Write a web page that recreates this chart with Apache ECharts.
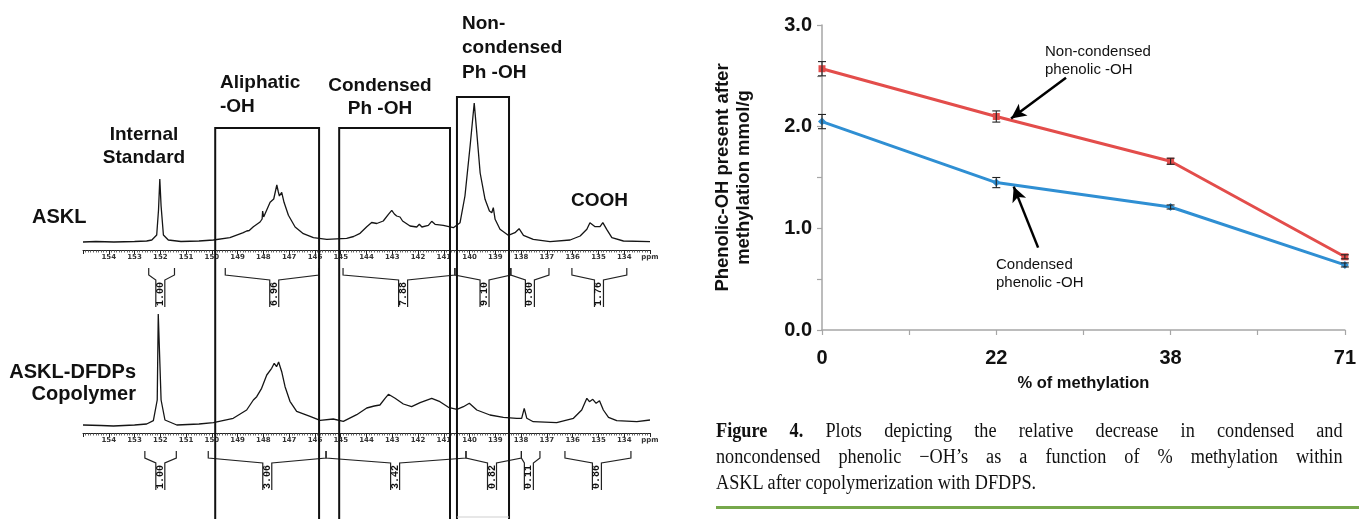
<!DOCTYPE html>
<html>
<head>
<meta charset="utf-8">
<title>Figure 4</title>
<script src="https://cdn.jsdelivr.net/npm/echarts@6.0.0/dist/echarts.min.js"></script>
<style>
  html, body { margin: 0; padding: 0; background: #fff; }
  #wrap { position: relative; width: 1359px; height: 519px; overflow: hidden; }
  #main { position: absolute; left: 0; top: 0; width: 1359px; height: 519px; }
  #caption {
    position: absolute; left: 716px; top: 417px; width: 704px;
    transform: scaleX(0.89); transform-origin: 0 0;
    font-family: "Liberation Serif", serif; font-size: 20.5px; line-height: 26px; color: #111;
  }
  #caption .j { text-align: justify; text-align-last: justify; white-space: nowrap; }
  #rule { position: absolute; left: 716px; top: 506px; width: 643px; height: 3px; background: #76a84b; }
</style>
</head>
<body>
<div id="wrap">
  <div id="main"></div>
  <div id="caption">
    <div class="j"><b>Figure 4.</b> Plots depicting the relative decrease in condensed and</div>
    <div class="j">noncondensed phenolic −OH’s as a function of % methylation within</div>
    <div>ASKL after copolymerization with DFDPS.</div>
  </div>
  <div id="rule"></div>
</div>
<script>
// ---- 31P NMR traces (ppm, intensity) ----
var ppmA = [155.0, 154.5, 153.8, 153.0, 152.53, 152.33, 152.14, 152.07, 152.02, 151.97, 151.88, 151.69, 151.2, 150.5,
  149.94, 149.3, 148.78, 148.65, 148.55, 148.39, 148.13, 148.05, 148.03, 147.99, 147.94, 147.74, 147.6, 147.55, 147.48,
  147.42, 147.38, 147.29, 147.2, 147.03, 146.77, 146.45, 146.06, 145.54, 144.77, 144.5, 144.25, 143.99, 143.8, 143.6,
  143.35, 143.15, 143.02, 142.92, 142.83, 142.7, 142.67, 142.6, 142.31, 142.05, 141.95, 141.85, 141.6, 141.47, 141.34,
  141.02, 140.63, 140.37, 140.18, 139.98, 139.88, 139.82, 139.72, 139.59, 139.4, 139.23, 139.14, 139.08, 139.01, 138.82,
  138.5, 138.24, 138.08, 137.91, 137.53, 136.88, 136.1, 135.71, 135.45, 135.33, 135.13, 134.94, 134.83, 134.68, 134.48,
  134.03, 133.0];
var intA = [8, 8.5, 8, 8.5, 9, 10, 15, 40, 71, 44, 15, 10, 8.5, 9,
  10, 12.3, 17.3, 19, 19.5, 23.3, 28, 31, 39, 33, 34, 47.7, 51, 53, 65,
  58, 54, 57.7, 47.7, 34.7, 23, 16.3, 12.3, 10.7, 11.7, 13.5, 16.7, 23.3, 27.5, 26.5,
  29, 35.7, 39.7, 36, 34, 33, 34.7, 29, 24, 23, 25.7, 23, 24.7, 28.7, 25.7,
  24.7, 22.3, 27.3, 54, 104, 131, 147, 117, 77, 50.7, 39, 37.3, 42.3, 30.7, 20.7,
  14.7, 17.3, 21.3, 14.7, 10.7, 8.3, 10, 14, 20.7, 27.3, 23.3, 23.3, 27.3, 20.7, 12.3,
  9, 8.3];

var ppmB = [155.0, 154.3, 153.82, 153.0, 152.53, 152.27, 152.12, 152.08, 152.03, 151.97, 151.82, 151.36, 150.5, 149.94,
  149.17, 148.65, 148.39, 148.26, 148.07, 147.87, 147.68, 147.58, 147.49, 147.41, 147.29, 147.16, 146.97, 146.71, 146.19,
  145.8, 145.29, 144.9, 144.38, 143.99, 143.7, 143.48, 143.28, 143.15, 142.89, 142.57, 142.25, 141.92, 141.47, 141.15,
  140.82, 140.49, 140.24, 140.01, 139.72, 139.21, 138.69, 138.17, 137.98, 137.88, 137.78, 137.53, 136.62, 135.97, 135.65,
  135.45, 135.35, 135.22, 135.09, 134.96, 134.81, 134.61, 134.29, 133.51, 133.0];
var intB = [8, 7.5, 7, 8, 9, 12.3, 33, 119, 119, 33, 13, 8, 9, 10.3,
  14.7, 23, 33, 36.3, 44.7, 58, 64.7, 69.7, 66.3, 71, 61.3, 46.3, 31.7, 21.7, 16.7,
  12.7, 14, 11.7, 18.3, 25, 27, 28, 34.7, 38.7, 34.7, 29, 26.3, 30.3, 34.7, 31.3,
  25.7, 23.7, 26.3, 29.7, 23, 18, 15.7, 14.7, 14.7, 24.7, 14.7, 11.3, 10.3, 14.7, 23,
  34.7, 31.3, 33.7, 29.7, 32.3, 23, 15.7, 12.3, 11.3, 13];

// integral regions (ppm) and their values
var integFromA = [152.45, 149.48, 144.91, 140.57, 138.40, 136.03];
var integToA   = [151.45, 145.84, 140.57, 138.40, 136.92, 133.90];
var integMidA  = [152.0, 147.58, 142.58, 139.42, 137.66, 134.98];
var integValA  = ['1.00', '6.96', '7.88', '9.10', '0.80', '1.76'];

var integFromB = [152.60, 150.14, 145.57, 140.14, 137.99, 136.30];
var integToB   = [151.38, 145.57, 140.14, 137.99, 137.27, 133.74];
var integMidB  = [152.0, 147.85, 142.89, 139.13, 137.70, 135.06];
var integValB  = ['1.00', '3.06', '3.42', '0.82', '0.11', '0.86'];

// region boxes (ppm)
var boxFrom = [149.87, 145.06, 140.49];
var boxTo   = [145.84, 140.76, 138.47];
var boxTopPx = [128, 128, 97];

// ---- methylation plot ----
var methylation = ['0', '22', '38', '71'];
var nonCondensed = [2.57, 2.10, 1.66, 0.72];
var nonCondensedErr = [0.07, 0.055, 0.03, 0.02];
var condensed = [2.05, 1.45, 1.21, 0.64];
var condensedErr = [0.07, 0.05, 0.02, 0.02];
var arrowNonCond = [[1.40, 2.48], [1.085, 2.08]];
var arrowCond = [[1.24, 0.81], [1.10, 1.41]];

var chart = echarts.init(document.getElementById('main'));

var labelFont = '"Liberation Sans", Arial, sans-serif';
var narrowFont = '"Liberation Sans Narrow", "Liberation Sans", Arial, sans-serif';

function pairs(xs, ys) {
  return xs.map(function (x, i) { return [x, ys[i]]; });
}

function rulerAxis(gridIndex) {
  return {
    type: 'value', gridIndex: gridIndex, min: 133, max: 155, interval: 1, inverse: true,
    axisLine: { show: true, onZero: false, lineStyle: { color: '#222', width: 1 } },
    axisTick: { show: true, length: 4, lineStyle: { color: '#222', width: 1 } },
    minorTick: { show: true, splitNumber: 10, length: 2.5, lineStyle: { color: '#444', width: 0.8 } },
    splitLine: { show: false },
    minorSplitLine: { show: false },
    axisLabel: {
      margin: 4, fontSize: 7, fontWeight: 'bold', color: '#333', fontFamily: 'DejaVu Sans',
      showMinLabel: true, showMaxLabel: false,
      formatter: function (v) { return v === 133 ? 'ppm' : String(v); }
    }
  };
}

function bracketSeries(idx, from, to, mid, vals) {
  return {
    type: 'custom', xAxisIndex: idx, yAxisIndex: idx, clip: false, silent: true, z: 4,
    data: from.map(function (f, i) { return [f, to[i], mid[i], i]; }),
    renderItem: function (params, api) {
      var i = api.value(3);
      var pL = api.coord([api.value(0), 0]);
      var xR = api.coord([api.value(1), 0])[0];
      var xM = api.coord([api.value(2), 0])[0];
      var xL = pL[0], base = pL[1], w = 4.5;
      var st = { stroke: '#222', lineWidth: 1.2, fill: null };
      return {
        type: 'group',
        children: [
          { type: 'polyline', shape: { points: [[xL, base + 18], [xL, base + 25], [xM - w, base + 30], [xM - w, base + 57]] }, style: st },
          { type: 'polyline', shape: { points: [[xR, base + 18], [xR, base + 25], [xM + w, base + 30], [xM + w, base + 57]] }, style: st },
          {
            type: 'text', x: xM, y: base + 44, rotation: Math.PI / 2,
            style: { text: vals[i], fill: '#111', font: 'bold 10px "Liberation Mono", monospace', align: 'center', verticalAlign: 'middle' }
          }
        ]
      };
    }
  };
}

function errorSeries(vals, errs) {
  return {
    type: 'custom', xAxisIndex: 2, yAxisIndex: 2, silent: true, z: 6,
    data: vals.map(function (v, i) { return [i, v, errs[i]]; }),
    renderItem: function (params, api) {
      var x = api.value(0), v = api.value(1), e = api.value(2);
      var hi = api.coord([x, v + e]), lo = api.coord([x, v - e]);
      var st = { stroke: '#222', lineWidth: 1.1, fill: null };
      return {
        type: 'group',
        children: [
          { type: 'line', shape: { x1: hi[0], y1: hi[1], x2: lo[0], y2: lo[1] }, style: st },
          { type: 'line', shape: { x1: hi[0] - 4, y1: hi[1], x2: hi[0] + 4, y2: hi[1] }, style: st },
          { type: 'line', shape: { x1: lo[0] - 4, y1: lo[1], x2: lo[0] + 4, y2: lo[1] }, style: st }
        ]
      };
    }
  };
}

function textEl(txt, x, y, size, align, lh, font) {
  return {
    type: 'text', x: x, y: y, z: 20,
    style: {
      text: txt, fill: '#111', align: align, verticalAlign: 'middle', lineHeight: lh,
      font: (font && font.weight ? font.weight : 'bold') + ' ' + size + 'px ' + (font && font.family ? font.family : labelFont)
    }
  };
}

var option = {
  animation: false,
  backgroundColor: '#fff',
  grid: [
    { left: 83, right: 709, top: 95, height: 155 },
    { left: 83, right: 709, top: 300, height: 133 },
    { left: 822, right: 12, top: 25, bottom: 189 }
  ],
  xAxis: [
    rulerAxis(0),
    rulerAxis(1),
    {
      type: 'value', gridIndex: 2, min: 0, max: 3, interval: 0.5,
      axisLine: { lineStyle: { color: '#a6a6a6', width: 1.5 } },
      axisTick: { show: true, length: 5, lineStyle: { color: '#a6a6a6', width: 1.2 } },
      splitLine: { show: false },
      axisLabel: {
        margin: 18, fontSize: 20, fontWeight: 'bold', color: '#111', fontFamily: narrowFont,
        formatter: function (v) { return v % 1 === 0 ? methylation[v] : ''; }
      },
      name: '% of methylation', nameLocation: 'middle', nameGap: 45,
      nameTextStyle: { fontSize: 16.5, fontWeight: 'bold', color: '#111', fontFamily: narrowFont }
    }
  ],
  yAxis: [
    { type: 'value', gridIndex: 0, min: 0, max: 155, show: false },
    { type: 'value', gridIndex: 1, min: 0, max: 133, show: false },
    {
      type: 'value', gridIndex: 2, min: 0, max: 3, interval: 0.5,
      axisLine: { show: true, lineStyle: { color: '#a6a6a6', width: 1.5 } },
      axisTick: { show: true, length: 5, lineStyle: { color: '#a6a6a6', width: 1.2 } },
      splitLine: { show: false },
      axisLabel: {
        margin: 10, fontSize: 20, fontWeight: 'bold', color: '#111', fontFamily: narrowFont,
        formatter: function (v) { return v % 1 === 0 ? v.toFixed(1) : ''; }
      },
      name: 'Phenolic-OH present after\nmethylation mmol/g', nameLocation: 'middle', nameRotate: 90, nameGap: 68,
      nameTextStyle: { fontSize: 18.5, fontWeight: 'bold', color: '#111', lineHeight: 21, fontFamily: narrowFont }
    }
  ],
  series: [
    {
      type: 'line', xAxisIndex: 0, yAxisIndex: 0, data: pairs(ppmA, intA), showSymbol: false,
      lineStyle: { color: '#151515', width: 1.3 }, z: 3
    },
    {
      type: 'line', xAxisIndex: 1, yAxisIndex: 1, data: pairs(ppmB, intB), showSymbol: false,
      lineStyle: { color: '#151515', width: 1.3 }, z: 3
    },
    bracketSeries(0, integFromA, integToA, integMidA, integValA),
    bracketSeries(1, integFromB, integToB, integMidB, integValB),
    {
      type: 'custom', xAxisIndex: 0, yAxisIndex: 0, clip: false, silent: true, z: 8,
      data: boxFrom.map(function (f, i) { return [f, boxTo[i], i]; }),
      renderItem: function (params, api) {
        var i = api.value(2);
        var x1 = api.coord([api.value(0), 0])[0];
        var x2 = api.coord([api.value(1), 0])[0];
        var top = boxTopPx[i];
        var kids = [{
          type: 'polyline',
          shape: { points: [[x1, 530], [x1, top], [x2, top], [x2, 530]] },
          style: { stroke: '#111', lineWidth: 2, fill: null }
        }];
        if (i === 2) {
          kids.push({ type: 'line', shape: { x1: x1, y1: 517, x2: x2, y2: 517 }, style: { stroke: '#cfcfcf', lineWidth: 1 } });
        }
        return { type: 'group', children: kids };
      }
    },
    {
      name: 'Non-condensed', type: 'line', xAxisIndex: 2, yAxisIndex: 2,
      data: nonCondensed.map(function (v, i) { return [i, v]; }),
      symbol: 'rect', symbolSize: 7, itemStyle: { color: '#e34d4b' },
      lineStyle: { color: '#e34d4b', width: 3 }, z: 4,
      markLine: {
        silent: true, symbol: ['none', 'arrow'], symbolSize: [11, 15], animation: false,
        lineStyle: { color: '#000', width: 2.5, type: 'solid' }, label: { show: false },
        data: [
          [{ coord: arrowNonCond[0] }, { coord: arrowNonCond[1] }],
          [{ coord: arrowCond[0] }, { coord: arrowCond[1] }]
        ]
      }
    },
    {
      name: 'Condensed', type: 'line', xAxisIndex: 2, yAxisIndex: 2,
      data: condensed.map(function (v, i) { return [i, v]; }),
      symbol: 'diamond', symbolSize: 8, itemStyle: { color: '#2f8fd3' },
      lineStyle: { color: '#2f8fd3', width: 3 }, z: 4
    },
    errorSeries(nonCondensed, nonCondensedErr),
    errorSeries(condensed, condensedErr)
  ],
  graphic: [
    textEl('Internal\nStandard', 144, 146, 19, 'center', 23),
    textEl('Aliphatic\n-OH', 220, 95, 19, 'left', 24),
    textEl('Condensed\nPh -OH', 380, 97, 19, 'center', 23),
    textEl('Non-\ncondensed\nPh -OH', 462, 48, 19, 'left', 24.5),
    textEl('COOH', 571, 201, 19, 'left', 22),
    textEl('ASKL', 32, 217, 20, 'left', 22),
    textEl('ASKL-DFDPs\nCopolymer', 136, 383, 20, 'right', 22),
    textEl('Non-condensed\nphenolic -OH', 1045, 61, 15, 'left', 18, { weight: 'normal', family: narrowFont }),
    textEl('Condensed\nphenolic -OH', 996, 274, 15, 'left', 18, { weight: 'normal', family: narrowFont })
  ]
};

chart.setOption(option);
</script>
</body>
</html>
